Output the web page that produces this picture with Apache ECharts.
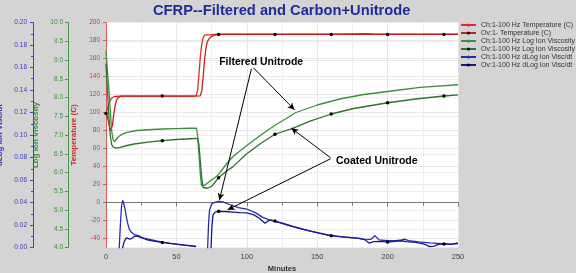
<!DOCTYPE html>
<html><head><meta charset="utf-8">
<script src="https://cdn.jsdelivr.net/npm/echarts@6/dist/echarts.min.js"></script>
<style>html,body{margin:0;padding:0;background:#d4d4d4}#c{width:576px;height:273px}</style>
</head><body><div id="c"></div>
<script>
// ---- data (minutes, value) ----
const chTemp = [[0,98],[1,104],[2,110],[3,113.5],[4,116],[6,117.8],[10,118.3],[20,118.3],[40,118.3],[60,118.3],[64,118.5],[65,124],[66,142],[67,162],[68,176],[69,183],[70,186],[71,187],[80,187],[120,187],[160,187],[185,187.5],[190,187.3],[200,187],[250,187]];
const ovTemp = [[0,99],[1,95],[2,88],[3,80],[3.7,78],[4.5,85],[5.5,98],[6.5,108],[7.5,114],[9,117],[11,118.2],[15,118.3],[40,118.3],[60,118.3],[67,118.5],[68,124],[69,140],[70,158],[71,172],[72,179],[74,183.5],[77,186],[80,186.8],[120,186.8],[160,186.8],[200,186.8],[240,186.8],[250,186.8]];
const chVisc = [[0,9.25],[1,8.72],[2,8.26],[3,7.65],[4,7.12],[5,6.88],[6,6.82],[7,6.86],[9,6.96],[12,7.03],[15,7.07],[22,7.12],[30,7.14],[40,7.16],[50,7.17],[60,7.18],[64.3,7.18],[65,7.0],[66,6.5],[67,5.95],[67.8,5.65],[68.5,5.62],[70,5.66],[72,5.72],[75,5.8],[78,5.88],[80,5.95],[85,6.2],[90,6.42],[100,6.72],[110,7.0],[120,7.26],[128,7.44],[135,7.6],[150,7.8],[166,7.96],[183,8.08],[200,8.16],[223,8.27],[250,8.34]];
const ovVisc = [[0,8.9],[1,8.2],[2,7.5],[3,7.0],[4,6.75],[5,6.68],[7,6.65],[10,6.67],[15,6.72],[20,6.76],[30,6.81],[40,6.85],[50,6.88],[60,6.9],[65,6.91],[66,6.75],[67,6.3],[68,5.85],[69,5.6],[70,5.56],[72,5.58],[75,5.63],[80,5.86],[85,6.02],[90,6.15],[100,6.5],[110,6.78],[120,7.02],[132,7.17],[145,7.37],[160,7.56],[175,7.7],[200,7.86],[220,7.96],[240,8.04],[250,8.07]];
const chDlog = [[8.8,-0.01],[9.4,0],[10.2,0.02],[11,0.036],[11.8,0.042],[12.6,0.039],[13.5,0.034],[14.5,0.027],[15.5,0.021],[16.5,0.0165],[18,0.0135],[20,0.0115],[23,0.0105],[26,0.0085],[30,0.0075],[35,0.006],[40,0.0047],[45,0.0038],[50,0.003],[55,0.0024],[60,0.0015],[64,0.0008],[66,'-'],
  [71.5,-0.01],[72.2,0],[72.8,0.02],[73.5,0.033],[75,0.0385],[77,0.04],[80,0.041],[83,0.0405],[88,0.038],[94,0.0355],[100,0.0342],[106,0.031],[111,0.027],[116,0.0245],[120,0.0232],[126,0.0215],[135,0.018],[145,0.0145],[152,0.0125],[159,0.0105],[168,0.0095],[176,0.0085],[183,0.0075],[188,0.0072],[191,0.0104],[194,0.0068],[200,0.006],[206,0.006],[210,0.0068],[212,0.0075],[215,0.0062],[222,0.005],[230,0.0042],[238,0.0035],[245,0.003],[250,0.0035]];
const ovDlog = [[11,-0.01],[11.8,0],[13,0.0055],[14.5,0.0085],[15.5,0.0092],[17,0.0075],[18.5,0.0082],[20.5,0.0102],[22.5,0.01],[25,0.0088],[30,0.0065],[35,0.0055],[40,0.0045],[45,0.0037],[50,0.003],[55,0.0022],[60,0.0016],[64,0.001],[66,'-'],
  [74,-0.01],[74.6,0],[75.2,0.018],[76,0.029],[77.5,0.0315],[80,0.0322],[85,0.032],[90,0.0315],[95,0.031],[100,0.0308],[105,0.029],[109,0.026],[111,0.0235],[113,0.0215],[115,0.0235],[117,0.0245],[120,0.0235],[130,0.0195],[140,0.0162],[150,0.0133],[160,0.0105],[170,0.0092],[180,0.0082],[184,0.0068],[187,0.0038],[190,0.0052],[195,0.0055],[200,0.0048],[205,0.0055],[210,0.006],[213,0.0052],[220,0.0045],[226,0.003],[230,0.0008],[233,0.0012],[236,0.0028],[240,0.0032],[245,0.0028],[250,0.004]];
const tempDots = [0,40,80,120,160,200,240];
const viscDots = [40,80,120,160,200,240];
const dlogDots = [40,80,120,160,200,240];
const seriesNames = ['Ch:1-100 Hz Temperature (C)','Ov:1- Temperature (C)','Ch:1-100 Hz Log Ion Viscosity','Ov:1-100 Hz Log Ion Viscosity','Ch:1-100 Hz dLog Ion Visc/dt','Ov:1-100 Hz dLog Ion Visc/dt'];
const titleText = 'CFRP--Filtered and Carbon+Unitrode';
// annotation texts and arrows, in (minutes, temperature) units
const labelsAnno = [{name:'Filtered Unitrode', coord:[110.2,156.3]},{name:'Coated Unitrode', coord:[192.3,45.6]}];
const arrowsAnno = [[[104.7,149.7],[133.9,103]],[[103.3,148.6],[80.5,2.6]],[[159.5,49.7],[131.6,82.7]],[[159.5,48.6],[86.4,-8.1]]];

const FONT = '"Liberation Sans", Arial, sans-serif';
const RED='#e02a2a', RED2='#c81e1e', GREEN='#3c8f3c', GREEN2='#2c742c', BLUE='#2a2ab0', BLUE2='#1a1a88';
function withDots(arr, dots){ return arr.map(p => dots.includes(p[0]) ? {value:p} : {value:p, symbol:'none'}); }
const chart = echarts.init(document.getElementById('c'), null, {renderer:'canvas'});
function lineS(name, data, yi, color, dotted){
  return {name, type:'line', yAxisIndex:yi, data: dotted ? withDots(data, dotted) : data,
    symbol: dotted ? 'circle' : 'none', symbolSize: 3.5, showSymbol:true,
    lineStyle:{color, width:1.3}, itemStyle:{color: dotted ? '#000' : color},
    emphasis:{disabled:true}, animation:false, connectNulls:false, z: 3};
}
function axisName(color){ return {color, fontWeight:'bold', fontSize:8, fontFamily:FONT, align:'center', verticalAlign:'middle'}; }
const option = {
  backgroundColor:'#d4d4d4',
  textStyle:{fontFamily:FONT},
  title:{text:titleText, left:153, top:3, padding:0, textStyle:{fontFamily:FONT, fontSize:14.7, fontWeight:'bold', color:'#1c2c9c'}},
  legend:{data:seriesNames, orient:'vertical', left:460, top:21, padding:0, itemWidth:15, itemHeight:4, itemGap:0, selectedMode:false,
    textStyle:{fontFamily:FONT, fontSize:7, lineHeight:8, color:'#333'}},
  grid:{left:106, right:118, top:22.5, bottom:25.5, show:true, backgroundColor:'#ffffff', borderWidth:0, containLabel:false, outerBoundsMode:'none'},
  xAxis:{type:'value', min:0, max:250, interval:50,
    axisLine:{show:true, lineStyle:{color:'#777'}}, axisTick:{show:true, length:4, lineStyle:{color:'#777'}},
    minorTick:{show:true, splitNumber:2, length:3, lineStyle:{color:'#777'}},
    axisLabel:{fontSize:7.5, color:'#444', margin:5},
    splitLine:{show:true, lineStyle:{color:'#e6e6e6'}}, minorSplitLine:{show:true, lineStyle:{color:'#eeeeee'}},
    name:'Minutes', nameLocation:'middle', nameGap:14, nameTextStyle:{fontWeight:'bold', fontSize:7.5, color:'#333'}},
  yAxis:[
    {type:'value', position:'left', offset:0, min:-50, max:200, minInterval:20, maxInterval:20, splitNumber:12,
     axisLine:{show:true, lineStyle:{color:'#e05a5a'}}, axisTick:{show:true, length:3, lineStyle:{color:'#e05a5a'}},
     axisLabel:{fontSize:6.5, color:'#d43a3a', margin:6, showMinLabel:false},
     splitLine:{show:true, lineStyle:{color:'#e8e8e8'}},
     name:'Temperature (C)', nameLocation:'middle', nameRotate:90, nameGap:27.5, nameTextStyle:axisName('#d42a2a')},
    {type:'value', position:'left', offset:38, min:4, max:10, interval:0.5,
     axisLine:{show:true, lineStyle:{color:'#4a9a4a'}}, axisTick:{show:true, length:3, lineStyle:{color:'#4a9a4a'}},
     axisLabel:{fontSize:6.5, color:'#3c8f3c', margin:5, formatter:v=>v.toFixed(1)},
     splitLine:{show:true, lineStyle:{color:'#eeeeee'}},
     name:'Log Ion Viscosity', nameLocation:'middle', nameRotate:90, nameGap:25.5, nameTextStyle:axisName('#3c8f3c')},
    {type:'value', position:'left', offset:73, min:0, max:0.2, interval:0.02,
     axisLine:{show:true, lineStyle:{color:'#4040c8'}}, axisTick:{show:true, length:3, lineStyle:{color:'#4040c8'}},
     minorTick:{show:true, splitNumber:2, length:2, lineStyle:{color:'#4040c8'}},
     axisLabel:{fontSize:6.5, color:'#3a3ac0', margin:6, formatter:v=>v.toFixed(2)},
     splitLine:{show:false},
     name:'dLog Ion Visc/dt', nameLocation:'middle', nameRotate:90, nameGap:27, nameTextStyle:axisName('#3030b8')}
  ],
  series:[
    lineS(seriesNames[0], chTemp, 0, RED, null),
    lineS(seriesNames[1], ovTemp, 0, RED2, tempDots),
    lineS(seriesNames[2], chVisc, 1, GREEN, null),
    lineS(seriesNames[3], ovVisc, 1, GREEN2, viscDots),
    lineS(seriesNames[4], chDlog, 2, BLUE, null),
    lineS(seriesNames[5], ovDlog, 2, BLUE2, dlogDots),
    {name:'annotations', type:'line', yAxisIndex:0, data:[], animation:false, silent:true,
     markLine:{silent:true, animation:false, symbol:['none','arrow'], symbolSize:[5,7], label:{show:false},
       lineStyle:{color:'#000', width:1, type:'solid'}, emphasis:{disabled:true},
       data: arrowsAnno.map(a => [{coord:a[0]},{coord:a[1]}])},
     markPoint:{silent:true, animation:false, symbol:'circle', symbolSize:1, itemStyle:{color:'rgba(0,0,0,0)'},
       label:{show:true, position:'inside', formatter:p=>p.name, color:'#000', fontWeight:'bold', fontSize:10.5, fontFamily:FONT},
       data: labelsAnno.map(l => ({name:l.name, coord:l.coord}))}}
  ]
};
chart.setOption(option);
</script></body></html>
